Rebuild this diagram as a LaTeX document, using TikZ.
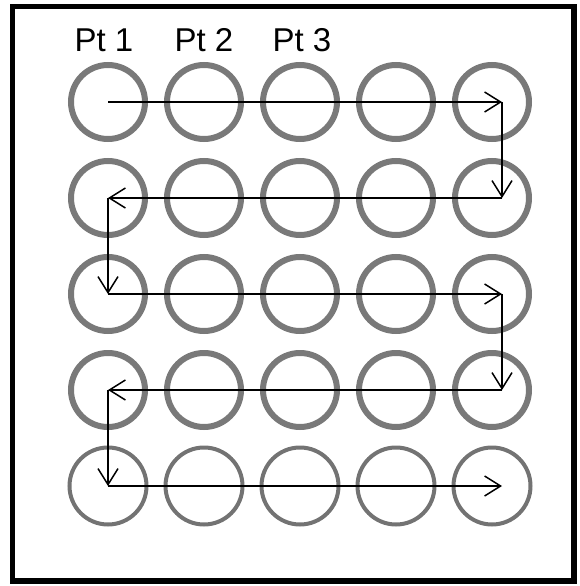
\documentclass[tikz,border=0pt]{standalone}
\usepackage{fontspec}
\setmainfont{Liberation Sans}
\usetikzlibrary{arrows.meta,positioning}

\begin{document}
\begin{tikzpicture}[x=1pt,y=-1pt,>={Straight Barb[length=16pt,width=20pt]}]
  \tikzstyle{well}=[draw=gray!95!black,line width=6pt,circle,minimum size=74pt,inner sep=0pt]
  \tikzstyle{welllast}=[draw=gray!90!black,line width=4pt,circle,minimum size=77pt,inner sep=0pt]
  \tikzstyle{lbl}=[font=\fontsize{33}{36}\selectfont,inner sep=0pt]
  \tikzstyle{move}=[->,line width=1.5pt]
  \useasboundingbox (0,0) rectangle (579,586);
  \draw[line width=5.5pt] (12.5,6.5) rectangle (574,581);
  % grid of wells
  \foreach \r in {1,...,4}
    \foreach \c in {1,...,5}
      \node[well] (w\r\c) at (12+96*\c,6+96*\r) {};
  \foreach \c in {1,...,5}
    \node[welllast] (w5\c) at (12+96*\c,486) {};
  \foreach \c/\dx in {1/-4,2/0,3/2}
    \node[lbl] (pt\c) at (12+96*\c+\dx,40) {Pt \c};
  % turning points at the right side
  \foreach \r in {1,...,5}
    \coordinate (t\r) at ([xshift=10pt]w\r5.center);
  \draw[move] (w11.center) -- (t1);
  \draw[move] (t1) -- (t2);
  \draw[move] (t2) -- (w21.center);
  \draw[move] (w21.center) -- (w31.center);
  \draw[move] (w31.center) -- (t3);
  \draw[move] (t3) -- (t4);
  \draw[move] (t4) -- (w41.center);
  \draw[move] (w41.center) -- (w51.center);
  \draw[move] (w51.center) -- (t5);
\end{tikzpicture}
\end{document}
